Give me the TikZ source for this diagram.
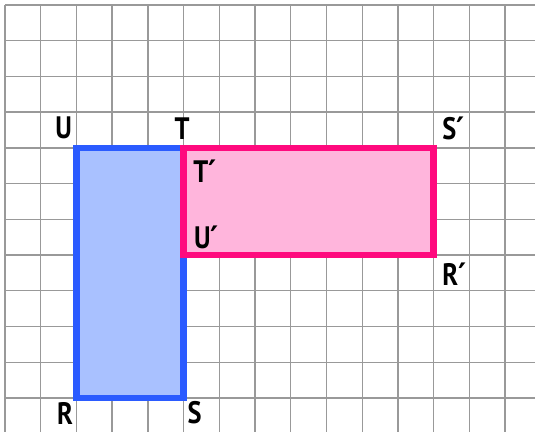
\documentclass[tikz,border=0pt]{standalone}
\usepackage{fontspec}
\setmainfont{PT Sans}
\newfontfamily\lblfont[FakeStretch=0.85]{PT Sans}
\newfontfamily\primefont{DejaVu Sans}
\newcommand{\pr}{{\primefont\bfseries ′}}
\definecolor{gridgray}{HTML}{999999}
\definecolor{blueline}{HTML}{2B5BFF}
\definecolor{bluefill}{HTML}{A9C1FF}
\definecolor{pinkline}{HTML}{FF0A7E}
\definecolor{pinkfill}{HTML}{FFB5DC}
\tikzset{
  gridline/.style={draw=gridgray, line width=1.4pt},
  shapeA/.style={draw=blueline, fill=bluefill, line width=6.5pt},
  shapeB/.style={draw=pinkline, fill=pinkfill, line width=6.5pt},
  lbl/.style={font=\lblfont\bfseries\fontsize{31}{31}\selectfont, inner sep=0pt, text=black}
}
\begin{document}
\begin{tikzpicture}[x=1pt,y=-1pt]
\useasboundingbox (0,0) rectangle (535,432);
\def\g{35.72}
\foreach \k in {0,...,14} {
  \draw[gridline] ({5+\k*\g},5) -- ({5+\k*\g},432);
}
\foreach \k in {0,...,11} {
  \draw[gridline] (5,{5+\k*\g}) -- (535,{5+\k*\g});
}
% blue rectangle U T S R
\coordinate (U) at ({5+2*\g},{5+4*\g});
\coordinate (T) at ({5+5*\g},{5+4*\g});
\coordinate (S) at ({5+5*\g},{5+11*\g});
\coordinate (R) at ({5+2*\g},{5+11*\g});
\draw[shapeA] (U) -- (T) -- (S) -- (R) -- cycle;
% pink rectangle T' S' R' U'
\coordinate (Tp) at ({5+5*\g},{5+4*\g});
\coordinate (Sp) at ({5+12*\g},{5+4*\g});
\coordinate (Rp) at ({5+12*\g},{5+7*\g});
\coordinate (Up) at ({5+5*\g},{5+7*\g});
\draw[shapeB] (Tp) -- (Sp) -- (Rp) -- (Up) -- cycle;
% labels
\node[lbl] (lU) at (63.7,128.3) {U};
\node[lbl] (lT) at (182,128.8) {T};
\node[lbl] (lSp) at (453.5,128.5) {S\pr};
\node[lbl] (lTp) at (205,171.5) {T\pr};
\node[lbl] (lUp) at (206.5,237.5) {U\pr};
\node[lbl] (lRp) at (454.5,274.5) {R\pr};
\node[lbl] (lR) at (65,413) {R};
\node[lbl] (lS) at (194.5,413) {S};
\end{tikzpicture}
\end{document}
